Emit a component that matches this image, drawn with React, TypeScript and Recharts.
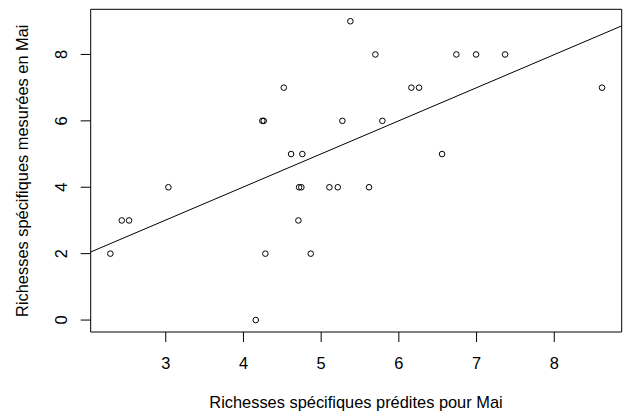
import { ScatterChart, Scatter, XAxis, YAxis, ReferenceArea, ReferenceLine } from "recharts";

// Richesses prédites (x) vs mesurées (y), mois de mai
const predicted = [
  5.376,
  5.698, 6.74, 6.994, 7.367,
  4.519, 6.161, 6.26, 8.615,
  4.243, 4.261, 5.273, 5.788,
  4.613, 4.758, 6.556,
  3.034, 4.716, 4.745, 5.106, 5.214, 5.616,
  2.434, 2.528, 4.707,
  2.287, 4.282, 4.866,
  4.158,
];
const measured = [
  9,
  8, 8, 8, 8,
  7, 7, 7, 7,
  6, 6, 6, 6,
  5, 5, 5,
  4, 4, 4, 4, 4, 4,
  3, 3, 3,
  2, 2, 2,
  0,
];

const xTicks = [3, 4, 5, 6, 7, 8];
const yTicks = [0, 2, 4, 6, 8];

// R-style limits: data range padded by 4%
const xDomain = [2.034, 8.868];
const yDomain = [-0.36, 9.36];

// fitted line, end points at the plot edges
const fitX = [2.034, 8.868];
const fitY = [2.05, 8.86];

const points = predicted.map((x, i) => ({ x, y: measured[i] }));

const FONT = "'Liberation Sans', Arial, sans-serif";
const INK = "#000";

const OpenCircle = (p: any) => (
  <circle cx={p.cx} cy={p.cy} r={2.8} fill="none" stroke={INK} strokeWidth={1} />
);

const renderXTick = ({ x, payload }: any) => (
  <text x={x} y={369} textAnchor="middle" fontFamily={FONT} fontSize={16.4} fill={INK}>
    {payload.value}
  </text>
);

const renderYTick = ({ y, payload }: any) => (
  <text
    x={67}
    y={y}
    transform={`rotate(-90 67 ${y})`}
    textAnchor="middle"
    fontFamily={FONT}
    fontSize={16.4}
    fill={INK}
  >
    {payload.value}
  </text>
);

export default function App() {
  return (
    <div style={{ position: "absolute", left: 0, top: 0, width: 628, height: 416, background: "#fff" }}>
      <ScatterChart width={628} height={416} margin={{ top: 9.3, right: 6.3, bottom: 44, left: 50.7 }}>
        <XAxis
          type="number"
          dataKey="x"
          domain={xDomain}
          ticks={xTicks}
          allowDataOverflow
          height={40}
          axisLine={false}
          tickLine={{ stroke: INK }}
          tickSize={10}
          tick={renderXTick}
        />
        <YAxis
          type="number"
          dataKey="y"
          domain={yDomain}
          ticks={yTicks}
          allowDataOverflow
          width={40}
          axisLine={false}
          tickLine={{ stroke: INK }}
          tickSize={10}
          tick={renderYTick}
        />
        <ReferenceArea
          x1={xDomain[0]}
          x2={xDomain[1]}
          y1={yDomain[0]}
          y2={yDomain[1]}
          fill="none"
          stroke={INK}
          strokeWidth={1}
        />
        <ReferenceLine
          segment={[
            { x: fitX[0], y: fitY[0] },
            { x: fitX[1], y: fitY[1] },
          ]}
          stroke={INK}
          strokeWidth={1}
        />
        <Scatter data={points} shape={OpenCircle} isAnimationActive={false} />
      </ScatterChart>
      <svg
        width={628}
        height={416}
        style={{ position: "absolute", left: 0, top: 0, pointerEvents: "none" }}
      >
        <text x={356} y={408} textAnchor="middle" fontFamily={FONT} fontSize={16.4} fill={INK}>
          Richesses spécifiques prédites pour Mai
        </text>
        <text
          x={27.7}
          y={170.7}
          transform="rotate(-90 27.7 170.7)"
          textAnchor="middle"
          fontFamily={FONT}
          fontSize={16.4}
          fill={INK}
        >
          Richesses spécifiques mesurées en Mai
        </text>
      </svg>
    </div>
  );
}
